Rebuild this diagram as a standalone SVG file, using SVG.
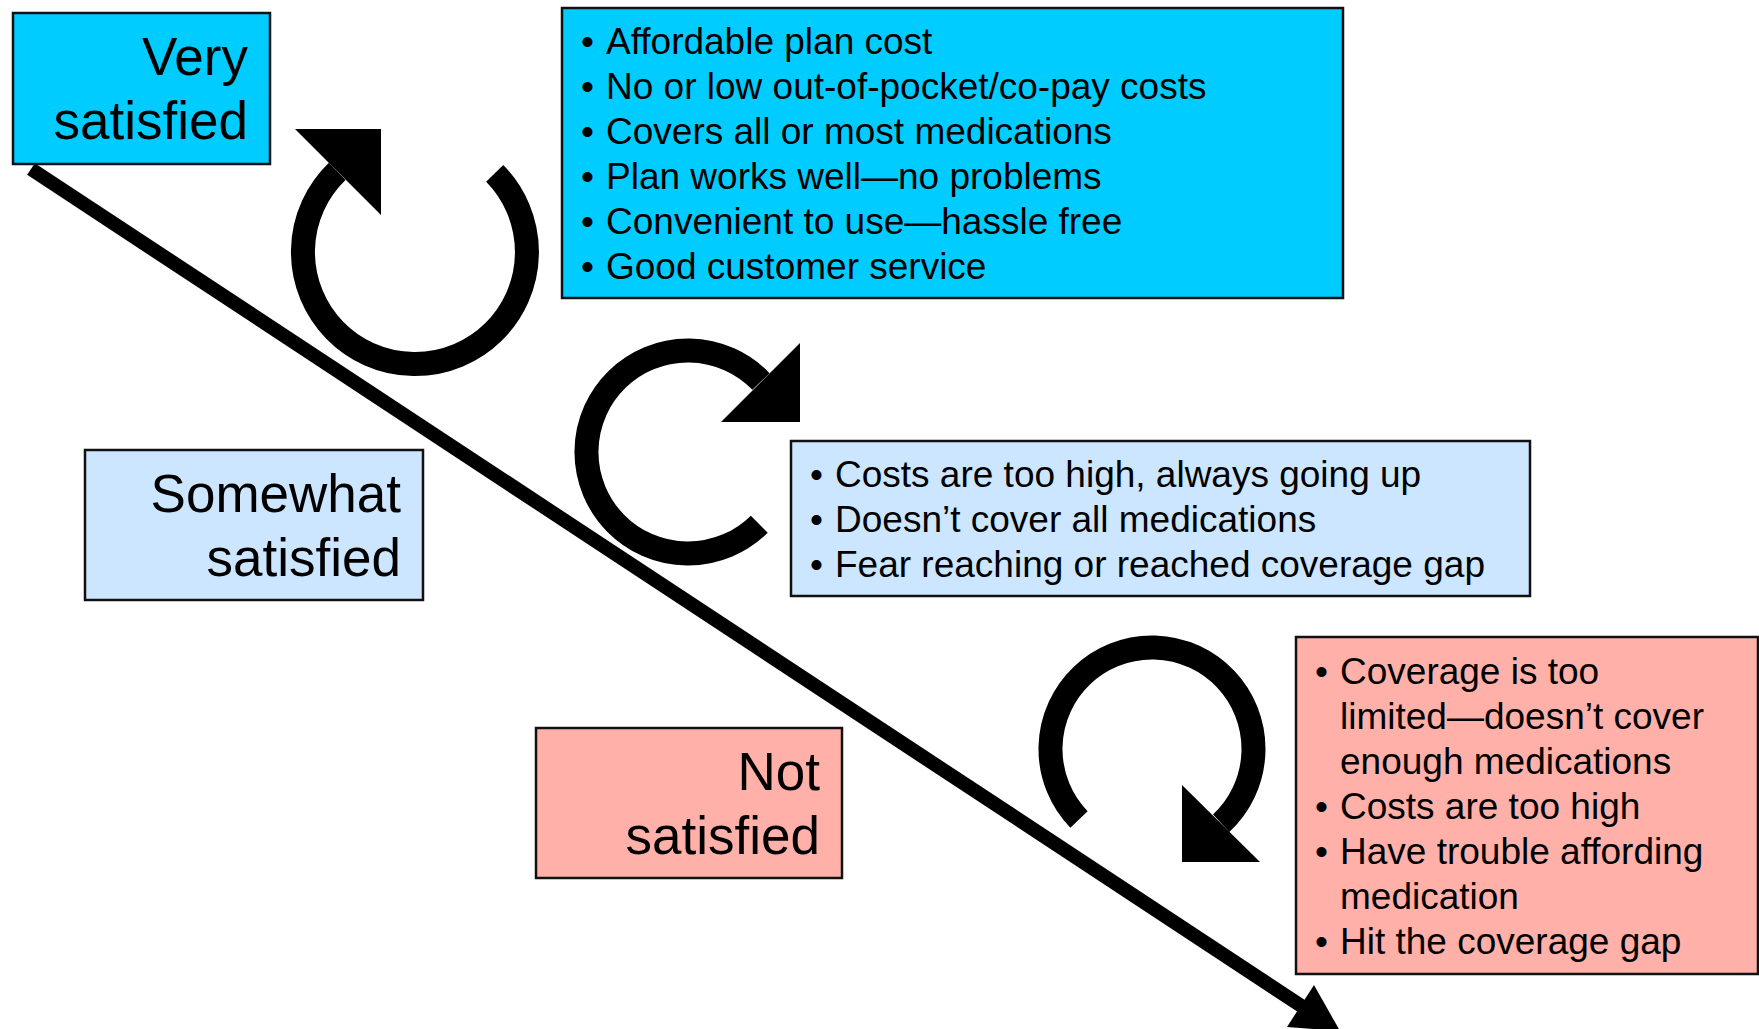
<svg xmlns="http://www.w3.org/2000/svg" width="1759" height="1029" viewBox="0 0 1759 1029">
<style>
.box{stroke:#111;stroke-width:2.5}
.cyan{fill:#00CCFF}
.lblue{fill:#CCE6FF}
.pink{fill:#FFB0A9}
.lbl{font-family:"Liberation Sans",Arial,sans-serif;font-size:53px;fill:#000;text-anchor:end}
.li{font-family:"Liberation Sans",Arial,sans-serif;font-size:37px;fill:#000}
.arc{fill:none;stroke:#000;stroke-width:24;stroke-linecap:butt}
.head{fill:#000}
</style>
<rect width="1759" height="1029" fill="#fff"/>
<g id="connectors">
  <line x1="31" y1="169" x2="1303" y2="1007" stroke="#000" stroke-width="14"/>
  <polygon class="head" points="1314,985 1287,1027 1340,1031"/>
  <path class="arc" d="M 494.7 173.4 A 112 112 0 1 1 337.2 171.4"/>
  <polygon class="head" points="295,129 381,129 381,215"/>
  <path class="arc" d="M 759.3 524.2 A 101.5 101.5 0 1 1 761 381.5"/>
  <polygon class="head" points="800,343 800,422 721,422"/>
  <path class="arc" d="M 1079 819.5 A 101.5 101.5 0 1 1 1221.2 823.2"/>
  <polygon class="head" points="1182,785 1182,862 1260,862"/>
</g>
<g id="very-satisfied">
  <rect class="box cyan" x="13" y="13" width="257" height="151"/>
  <text class="lbl" x="248" y="75">Very</text>
  <text class="lbl" x="248" y="139">satisfied</text>
</g>
<g id="somewhat-satisfied">
  <rect class="box lblue" x="85" y="450" width="338" height="150"/>
  <text class="lbl" x="401" y="512">Somewhat</text>
  <text class="lbl" x="401" y="576">satisfied</text>
</g>
<g id="not-satisfied">
  <rect class="box pink" x="536" y="728" width="306" height="150"/>
  <text class="lbl" x="820" y="790">Not</text>
  <text class="lbl" x="820" y="854">satisfied</text>
</g>
<g id="very-reasons">
  <rect class="box cyan" x="562" y="8" width="781" height="290"/>
  <text class="li" x="581" y="54">•</text><text class="li" x="606" y="54">Affordable plan cost</text>
  <text class="li" x="581" y="99">•</text><text class="li" x="606" y="99">No or low out-of-pocket/co-pay costs</text>
  <text class="li" x="581" y="144">•</text><text class="li" x="606" y="144">Covers all or most medications</text>
  <text class="li" x="581" y="189">•</text><text class="li" x="606" y="189">Plan works well—no problems</text>
  <text class="li" x="581" y="234">•</text><text class="li" x="606" y="234">Convenient to use—hassle free</text>
  <text class="li" x="581" y="279">•</text><text class="li" x="606" y="279">Good customer service</text>
</g>
<g id="somewhat-reasons">
  <rect class="box lblue" x="791" y="441" width="739" height="155"/>
  <text class="li" x="810" y="487">•</text><text class="li" x="835" y="487">Costs are too high, always going up</text>
  <text class="li" x="810" y="532">•</text><text class="li" x="835" y="532">Doesn’t cover all medications</text>
  <text class="li" x="810" y="577">•</text><text class="li" x="835" y="577">Fear reaching or reached coverage gap</text>
</g>
<g id="not-reasons">
  <rect class="box pink" x="1296" y="637" width="462" height="337"/>
  <text class="li" x="1315" y="684">•</text><text class="li" x="1340" y="684">Coverage is too</text>
  <text class="li" x="1340" y="729">limited—doesn’t cover</text>
  <text class="li" x="1340" y="774">enough medications</text>
  <text class="li" x="1315" y="819">•</text><text class="li" x="1340" y="819">Costs are too high</text>
  <text class="li" x="1315" y="864">•</text><text class="li" x="1340" y="864">Have trouble affording</text>
  <text class="li" x="1340" y="909">medication</text>
  <text class="li" x="1315" y="954">•</text><text class="li" x="1340" y="954">Hit the coverage gap</text>
</g>
</svg>
